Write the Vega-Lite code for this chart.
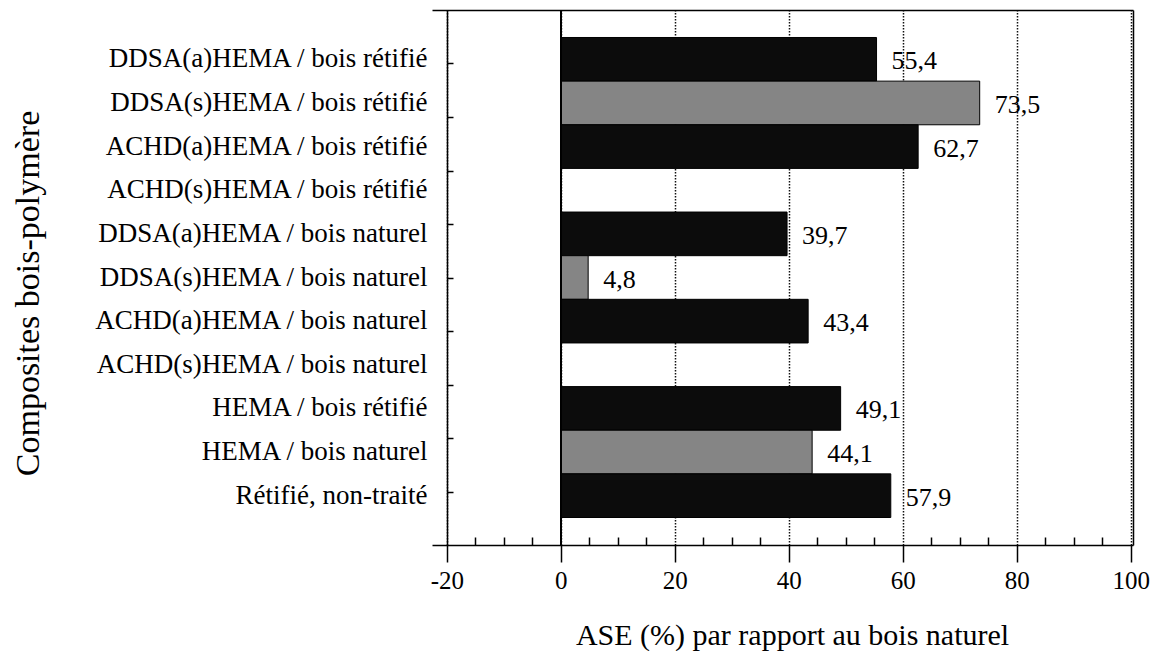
{
  "$schema": "https://vega.github.io/schema/vega-lite/v6.json",
  "width": 701,
  "height": 535,
  "autosize": "none",
  "padding": {"left": 432, "top": 10, "right": 33, "bottom": 106},
  "background": "white",
  "config": {
    "view": {"stroke": null},
    "font": "Liberation Serif",
    "locale": {"number": {"decimal": ",", "thousands": " ", "grouping": [3], "currency": ["", " €"], "minus": "-"}},
    "axis": {
      "labelFont": "Liberation Serif",
      "titleFont": "Liberation Serif",
      "labelColor": "black",
      "titleColor": "black",
      "domainColor": "black",
      "tickColor": "black",
      "titleFontWeight": "normal",
      "domainWidth": 1.5,
      "tickWidth": 1.5
    }
  },
  "data": {
    "values": [
      {"composite": "DDSA(a)HEMA / bois rétifié", "ase": 55.4, "groupe": "A"},
      {"composite": "DDSA(s)HEMA / bois rétifié", "ase": 73.5, "groupe": "B"},
      {"composite": "ACHD(a)HEMA / bois rétifié", "ase": 62.7, "groupe": "A"},
      {"composite": "ACHD(s)HEMA / bois rétifié", "ase": null, "groupe": "A"},
      {"composite": "DDSA(a)HEMA / bois naturel", "ase": 39.7, "groupe": "A"},
      {"composite": "DDSA(s)HEMA / bois naturel", "ase": 4.8, "groupe": "B"},
      {"composite": "ACHD(a)HEMA / bois naturel", "ase": 43.4, "groupe": "A"},
      {"composite": "ACHD(s)HEMA / bois naturel", "ase": null, "groupe": "A"},
      {"composite": "HEMA / bois rétifié", "ase": 49.1, "groupe": "A"},
      {"composite": "HEMA / bois naturel", "ase": 44.1, "groupe": "B"},
      {"composite": "Rétifié, non-traité", "ase": 57.9, "groupe": "A"}
    ]
  },
  "layer": [
    {
      "mark": {"type": "bar", "stroke": "black", "strokeWidth": 1},
      "encoding": {
        "y": {
          "field": "composite", "type": "nominal", "sort": null,
          "scale": {"type": "band", "domain": ["DDSA(a)HEMA / bois rétifié", "DDSA(s)HEMA / bois rétifié", "ACHD(a)HEMA / bois rétifié", "ACHD(s)HEMA / bois rétifié", "DDSA(a)HEMA / bois naturel", "DDSA(s)HEMA / bois naturel", "ACHD(a)HEMA / bois naturel", "ACHD(s)HEMA / bois naturel", "HEMA / bois rétifié", "HEMA / bois naturel", "Rétifié, non-traité"], "paddingInner": 0, "paddingOuter": 0.63},
          "axis": {
            "orient": "left",
            "title": "Composites bois-polymère",
            "ticks": false, "domain": false, "grid": false,
            "labelFontSize": 27, "labelPadding": 5, "labelLimit": 0,
            "titleFontSize": 34, "titleX": -404, "titleY": 283, "titleAngle": -90,
            "titleBaseline": "middle", "titleAlign": "center"
          }
        },
        "x": {
          "field": "ase", "type": "quantitative",
          "scale": {"domain": [-22.6, 100.4], "nice": false, "zero": false},
          "axis": {
            "orient": "bottom",
            "values": [-20, 0, 20, 40, 60, 80, 100],
            "title": "ASE (%) par rapport au bois naturel",
            "labelFontSize": 25, "tickSize": 17, "labelPadding": 6,
            "grid": true, "gridDash": [1.5, 1.5], "gridColor": "#111111", "gridWidth": 1.5,
            "titleFontSize": 30, "titleX": 360, "titleY": 99, "titleBaseline": "alphabetic", "titleAlign": "center"
          }
        },
        "color": {
          "field": "groupe", "type": "nominal",
          "scale": {"domain": ["A", "B"], "range": ["#0c0c0c", "#858585"]},
          "legend": null
        }
      }
    },
    {
      "mark": {"type": "text", "align": "left", "baseline": "middle", "dx": 15, "dy": 2, "fontSize": 26, "font": "Liberation Serif", "color": "black"},
      "encoding": {
        "y": {
          "field": "composite", "type": "nominal", "sort": null,
          "scale": {"type": "band", "domain": ["DDSA(a)HEMA / bois rétifié", "DDSA(s)HEMA / bois rétifié", "ACHD(a)HEMA / bois rétifié", "ACHD(s)HEMA / bois rétifié", "DDSA(a)HEMA / bois naturel", "DDSA(s)HEMA / bois naturel", "ACHD(a)HEMA / bois naturel", "ACHD(s)HEMA / bois naturel", "HEMA / bois rétifié", "HEMA / bois naturel", "Rétifié, non-traité"], "paddingInner": 0, "paddingOuter": 0.63},
          "axis": {"orient": "right", "title": null, "labels": false, "ticks": false, "domain": true, "grid": false}
        },
        "x": {
          "field": "ase", "type": "quantitative",
          "axis": {"orient": "top", "title": null, "labels": false, "ticks": false, "domain": true, "grid": false}
        },
        "text": {"field": "ase", "type": "quantitative", "format": ".1f"}
      }
    },
    {
      "mark": {"type": "rule", "color": "black", "strokeWidth": 1.5},
      "encoding": {
        "x": {
          "datum": 0, "type": "quantitative",
          "axis": {"orient": "bottom", "values": [-15, -10, -5, 5, 10, 15, 25, 30, 35, 45, 50, 55, 65, 70, 75, 85, 90, 95], "tickSize": -8, "labels": false, "domain": false, "grid": false, "title": null}
        },
        "y": {
          "datum": 0, "type": "quantitative",
          "scale": {"domain": [0, 10], "nice": false, "zero": false},
          "axis": {"orient": "left", "offset": -15, "values": [1, 2, 3, 4, 5, 6, 7, 8, 9], "tickSize": -6, "labels": false, "title": null, "grid": false, "domain": true}
        },
        "y2": {"datum": 10}
      }
    }
  ],
  "resolve": {
    "scale": {"y": "independent"},
    "axis": {"x": "independent", "y": "independent"}
  }
}
